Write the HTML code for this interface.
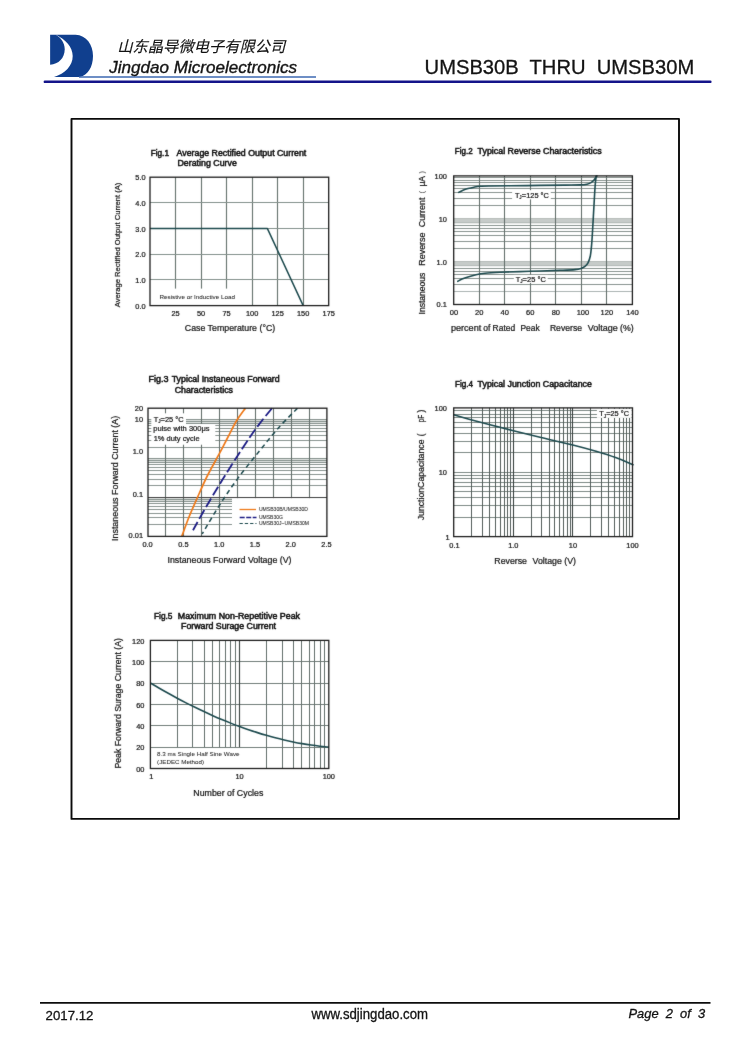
<!DOCTYPE html>
<html><head><meta charset="utf-8"><title>UMSB30B THRU UMSB30M</title>
<style>html,body{margin:0;padding:0;background:#fff}body{width:750px;height:1060px;overflow:hidden}svg{display:block}text{font-family:"Liberation Sans",sans-serif;fill:#141414}.fg text{stroke:#141414;stroke-width:0.22px}</style>
</head><body>
<svg width="750" height="1060" viewBox="0 0 750 1060" fill="none">
<rect width="750" height="1060" fill="#fff"/>
<defs><filter id="g0" x="-2%" y="-2%" width="104%" height="104%" color-interpolation-filters="sRGB"><feGaussianBlur stdDeviation="0.01"/></filter><filter id="b1" x="-5%" y="-5%" width="110%" height="110%" color-interpolation-filters="sRGB"><feConvolveMatrix order="3" kernelMatrix="1 4 1 4 52 4 1 4 1" divisor="72" edgeMode="duplicate" preserveAlpha="false"/></filter></defs>
<g id="hdr" filter="url(#g0)">
<g id="logo">
<path fill="#103f8e" d="M50.1 34.7H55.9C60.5 37.5 64.7 42.5 64.7 49.2C64.7 58 58.5 64.2 50.1 64.7Z"/>
<path fill="#103f8e" d="M55.9 34.7H75.5C86.5 35.2 93 44.5 93 56C93 67.5 87.5 75 80.1 77H54C65 73.5 72.7 66 72.7 56C72.7 47 65.5 39.5 55.9 34.7Z"/>
</g>
<path d="M79 76.9H316" stroke="#3d69b2" stroke-width="1.5"/>
<path d="M44.9 81.85H710.3" stroke="#14148a" stroke-width="2.6" stroke-linecap="round"/>
<text id="cn" transform="translate(117.3 52.4) skewX(-14)" x="0" y="0" font-size="15.3" textLength="168" lengthAdjust="spacingAndGlyphs" style="font-family:'Liberation Sans','Noto Sans CJK SC',sans-serif;fill:#111;stroke:#111;stroke-width:0.15px" xml:space="preserve">山东晶导微电子有限公司</text>
<text x="109.30" y="72.70" font-size="17" textLength="187.70" lengthAdjust="spacingAndGlyphs" font-style="italic" fill="#111" style="stroke:#111;stroke-width:0.35px" xml:space="preserve">Jingdao Microelectronics</text>
<text x="424.60" y="74.00" font-size="20" textLength="269.60" lengthAdjust="spacingAndGlyphs" fill="#111" style="stroke:#111;stroke-width:0.3px" xml:space="preserve">UMSB30B  THRU  UMSB30M</text>
</g>
<rect x="71.5" y="118.9" width="607.5" height="700" stroke="#0a0a0a" stroke-width="1.9" stroke-linejoin="round"/>
<g id="ftr" filter="url(#g0)">
<path d="M40 1002.5H710.5" stroke="#0c0c0c" stroke-width="2.7"/>
<text x="45.60" y="1019.90" font-size="13.2" textLength="47.80" lengthAdjust="spacingAndGlyphs" fill="#111" style="stroke:#111;stroke-width:0.3px" xml:space="preserve">2017.12</text>
<text x="311.40" y="1018.60" font-size="13.8" textLength="116.60" lengthAdjust="spacingAndGlyphs" fill="#111" style="stroke:#111;stroke-width:0.3px" xml:space="preserve">www.sdjingdao.com</text>
<text x="628.50" y="1018.40" font-size="13.5" textLength="76.70" lengthAdjust="spacingAndGlyphs" font-style="italic" fill="#111" style="stroke:#111;stroke-width:0.3px" xml:space="preserve">Page  2  of  3</text>
</g>
<g id="fig1" class="fg" filter="url(#b1)">
<path d="M175.50 177.20V305.60" stroke="#6a7773" stroke-width="1.15" />
<path d="M201.50 177.20V305.60" stroke="#6a7773" stroke-width="1.15" />
<path d="M226.50 177.20V305.60" stroke="#6a7773" stroke-width="1.15" />
<path d="M252.50 177.20V305.60" stroke="#6a7773" stroke-width="1.15" />
<path d="M277.50 177.20V305.60" stroke="#6a7773" stroke-width="1.15" />
<path d="M303.50 177.20V305.60" stroke="#6a7773" stroke-width="1.15" />
<path d="M150.00 202.50H328.70" stroke="#84918c" stroke-width="1.15" />
<path d="M150.00 228.50H328.70" stroke="#84918c" stroke-width="1.15" />
<path d="M150.00 254.50H328.70" stroke="#84918c" stroke-width="1.15" />
<path d="M150.00 279.50H328.70" stroke="#84918c" stroke-width="1.15" />
<rect x="151.00" y="288.60" width="88.00" height="17.00" fill="#fff"/>
<path d="M150.00 228.56H267.43L303.17 305.60" stroke="#1d4a4e" stroke-width="1.5" stroke-linejoin="round"/>
<rect x="150.0" y="177.2" width="178.70" height="128.40" stroke="#1e1e1e" stroke-width="1.3"/>
<text x="150.70" y="155.50" font-size="8.6" textLength="18.30" lengthAdjust="spacingAndGlyphs" style="stroke-width:0.52px" xml:space="preserve">Fig.1</text>
<text x="176.60" y="155.50" font-size="8.6" textLength="129.70" lengthAdjust="spacingAndGlyphs" style="stroke-width:0.52px" xml:space="preserve">Average Rectified Output Current</text>
<text x="177.50" y="165.60" font-size="8.6" textLength="59.30" lengthAdjust="spacingAndGlyphs" style="stroke-width:0.52px" xml:space="preserve">Derating Curve</text>
<text x="145.60" y="180.30" font-size="7.4" text-anchor="end" xml:space="preserve">5.0</text>
<text x="145.60" y="205.98" font-size="7.4" text-anchor="end" xml:space="preserve">4.0</text>
<text x="145.60" y="231.66" font-size="7.4" text-anchor="end" xml:space="preserve">3.0</text>
<text x="145.60" y="257.34" font-size="7.4" text-anchor="end" xml:space="preserve">2.0</text>
<text x="145.60" y="283.02" font-size="7.4" text-anchor="end" xml:space="preserve">1.0</text>
<text x="145.60" y="308.70" font-size="7.4" text-anchor="end" xml:space="preserve">0.0</text>
<text x="175.53" y="315.80" font-size="7.4" text-anchor="middle" xml:space="preserve">25</text>
<text x="201.06" y="315.80" font-size="7.4" text-anchor="middle" xml:space="preserve">50</text>
<text x="226.59" y="315.80" font-size="7.4" text-anchor="middle" xml:space="preserve">75</text>
<text x="252.11" y="315.80" font-size="7.4" text-anchor="middle" xml:space="preserve">100</text>
<text x="277.64" y="315.80" font-size="7.4" text-anchor="middle" xml:space="preserve">125</text>
<text x="303.17" y="315.80" font-size="7.4" text-anchor="middle" xml:space="preserve">150</text>
<text x="328.70" y="315.80" font-size="7.4" text-anchor="middle" xml:space="preserve">175</text>
<text x="184.80" y="331.00" font-size="8.6" textLength="90.40" lengthAdjust="spacingAndGlyphs" xml:space="preserve">Case Temperature (°C)</text>
<text transform="translate(119.80 307.30) rotate(-90)" font-size="7.6" textLength="124.60" lengthAdjust="spacingAndGlyphs" xml:space="preserve">Average Rectified Output Current (A)</text>
<text x="159.50" y="298.50" font-size="5.6" textLength="75.50" lengthAdjust="spacingAndGlyphs" style="stroke-width:0.05px;fill:#262626" xml:space="preserve">Resistive or Inductive Load</text>
</g>
<g id="fig2" class="fg" filter="url(#b1)">
<rect x="453.70" y="218.37" width="178.70" height="5.05" fill="#c6cbc9"/>
<rect x="453.70" y="261.23" width="178.70" height="5.05" fill="#c6cbc9"/>
<path d="M453.70 205.50H632.40" stroke="#7e8a86" stroke-width="0.9" />
<path d="M453.70 198.50H632.40" stroke="#7e8a86" stroke-width="0.9" />
<path d="M453.70 192.50H632.40" stroke="#7e8a86" stroke-width="0.9" />
<path d="M453.70 188.50H632.40" stroke="#7e8a86" stroke-width="0.9" />
<path d="M453.70 185.50H632.40" stroke="#7e8a86" stroke-width="0.9" />
<path d="M453.70 182.50H632.40" stroke="#7e8a86" stroke-width="0.9" />
<path d="M453.70 180.50H632.40" stroke="#7e8a86" stroke-width="0.9" />
<path d="M453.70 177.50H632.40" stroke="#7e8a86" stroke-width="0.9" />
<path d="M453.70 248.50H632.40" stroke="#7e8a86" stroke-width="0.9" />
<path d="M453.70 241.50H632.40" stroke="#7e8a86" stroke-width="0.9" />
<path d="M453.70 235.50H632.40" stroke="#7e8a86" stroke-width="0.9" />
<path d="M453.70 231.50H632.40" stroke="#7e8a86" stroke-width="0.9" />
<path d="M453.70 228.50H632.40" stroke="#7e8a86" stroke-width="0.9" />
<path d="M453.70 225.50H632.40" stroke="#7e8a86" stroke-width="0.9" />
<path d="M453.70 222.50H632.40" stroke="#b3bab7" stroke-width="0.9" />
<path d="M453.70 218.50H632.40" stroke="#b3bab7" stroke-width="0.9" />
<path d="M453.70 291.50H632.40" stroke="#a3adaa" stroke-width="0.9" />
<path d="M453.70 284.50H632.40" stroke="#7e8a86" stroke-width="0.9" />
<path d="M453.70 278.50H632.40" stroke="#7e8a86" stroke-width="0.9" />
<path d="M453.70 274.50H632.40" stroke="#7e8a86" stroke-width="0.9" />
<path d="M453.70 271.50H632.40" stroke="#7e8a86" stroke-width="0.9" />
<path d="M453.70 268.50H632.40" stroke="#7e8a86" stroke-width="0.9" />
<path d="M453.70 265.50H632.40" stroke="#b3bab7" stroke-width="0.9" />
<path d="M453.70 261.50H632.40" stroke="#b3bab7" stroke-width="0.9" />
<path d="M479.50 175.90V304.50" stroke="#65716d" stroke-width="1.1" />
<path d="M504.50 175.90V304.50" stroke="#65716d" stroke-width="1.1" />
<path d="M530.50 175.90V304.50" stroke="#65716d" stroke-width="1.1" />
<path d="M555.50 175.90V304.50" stroke="#65716d" stroke-width="1.1" />
<path d="M581.50 175.90V304.50" stroke="#65716d" stroke-width="1.1" />
<path d="M606.50 175.90V304.50" stroke="#65716d" stroke-width="1.1" />
<rect x="512.10" y="190.20" width="38.70" height="9.20" fill="#fff"/>
<rect x="513.80" y="274.90" width="33.90" height="8.00" fill="#fff"/>
<path d="M458.70 192.40C459.42 192.05 461.45 190.93 463.00 190.30C464.55 189.67 466.17 189.12 468.00 188.60C469.83 188.08 471.97 187.58 474.00 187.20C476.03 186.82 477.53 186.50 480.20 186.30C482.87 186.10 485.03 186.08 490.00 186.00C494.97 185.92 501.67 185.90 510.00 185.80C518.33 185.70 530.83 185.52 540.00 185.40C549.17 185.28 558.33 185.18 565.00 185.10C571.67 185.02 576.33 185.05 580.00 184.90C583.67 184.75 585.17 184.58 587.00 184.20C588.83 183.82 589.83 183.30 591.00 182.60C592.17 181.90 593.13 180.93 594.00 180.00C594.87 179.07 595.70 177.68 596.20 177.00C596.70 176.32 596.87 176.08 597.00 175.90" stroke="#1d4a4e" stroke-width="1.6" stroke-linecap="round"/>
<path d="M457.80 281.30C458.50 280.93 460.30 279.83 462.00 279.10C463.70 278.37 465.67 277.63 468.00 276.90C470.33 276.17 473.17 275.32 476.00 274.70C478.83 274.08 481.00 273.60 485.00 273.20C489.00 272.80 492.50 272.62 500.00 272.30C507.50 271.98 520.00 271.63 530.00 271.30C540.00 270.97 552.50 270.58 560.00 270.30C567.50 270.02 571.50 269.90 575.00 269.60C578.50 269.30 579.33 269.03 581.00 268.50C582.67 267.97 583.83 267.35 585.00 266.40C586.17 265.45 587.12 264.53 588.00 262.80C588.88 261.07 589.70 258.97 590.30 256.00C590.90 253.03 591.22 249.33 591.60 245.00C591.98 240.67 592.20 236.67 592.60 230.00C593.00 223.33 593.57 212.50 594.00 205.00C594.43 197.50 594.83 189.85 595.20 185.00C595.57 180.15 596.03 177.42 596.20 175.90" stroke="#1d4a4e" stroke-width="1.6" stroke-linecap="round"/>
<rect x="453.7" y="175.9" width="178.70" height="128.60" stroke="#1e1e1e" stroke-width="1.3"/>
<text x="454.80" y="154.20" font-size="8.6" textLength="17.80" lengthAdjust="spacingAndGlyphs" style="stroke-width:0.52px" xml:space="preserve">Fig.2</text>
<text x="477.60" y="154.20" font-size="8.6" textLength="124.00" lengthAdjust="spacingAndGlyphs" style="stroke-width:0.52px" xml:space="preserve">Typical Reverse Characteristics</text>
<text x="446.90" y="179.10" font-size="7.4" text-anchor="end" xml:space="preserve">100</text>
<text x="446.90" y="221.97" font-size="7.4" text-anchor="end" xml:space="preserve">10</text>
<text x="446.90" y="264.83" font-size="7.4" text-anchor="end" xml:space="preserve">1.0</text>
<text x="446.90" y="307.30" font-size="7.4" text-anchor="end" xml:space="preserve">0.1</text>
<text x="453.90" y="315.10" font-size="7.5" text-anchor="middle" xml:space="preserve">00</text>
<text x="479.23" y="315.10" font-size="7.5" text-anchor="middle" xml:space="preserve">20</text>
<text x="504.76" y="315.10" font-size="7.5" text-anchor="middle" xml:space="preserve">40</text>
<text x="530.29" y="315.10" font-size="7.5" text-anchor="middle" xml:space="preserve">60</text>
<text x="555.81" y="315.10" font-size="7.5" text-anchor="middle" xml:space="preserve">80</text>
<text x="582.94" y="315.10" font-size="7.5" text-anchor="middle" xml:space="preserve">100</text>
<text x="606.87" y="315.10" font-size="7.5" text-anchor="middle" xml:space="preserve">120</text>
<text x="632.40" y="315.10" font-size="7.5" text-anchor="middle" xml:space="preserve">140</text>
<text x="450.90" y="331.10" font-size="8.4" textLength="30.40" lengthAdjust="spacingAndGlyphs" xml:space="preserve">percent</text>
<text x="483.30" y="331.10" font-size="8.4" textLength="7.10" lengthAdjust="spacingAndGlyphs" xml:space="preserve">of</text>
<text x="492.60" y="331.10" font-size="8.4" textLength="22.60" lengthAdjust="spacingAndGlyphs" xml:space="preserve">Rated</text>
<text x="520.50" y="331.10" font-size="8.4" textLength="19.20" lengthAdjust="spacingAndGlyphs" xml:space="preserve">Peak</text>
<text x="549.90" y="331.10" font-size="8.4" textLength="32.10" lengthAdjust="spacingAndGlyphs" xml:space="preserve">Reverse</text>
<text x="587.80" y="331.10" font-size="8.4" textLength="30.00" lengthAdjust="spacingAndGlyphs" xml:space="preserve">Voltage</text>
<text x="620.00" y="331.10" font-size="8.4" textLength="13.70" lengthAdjust="spacingAndGlyphs" xml:space="preserve">(%)</text>
<text transform="translate(424.70 314.50) rotate(-90)" font-size="8.4" textLength="41.90" lengthAdjust="spacingAndGlyphs" xml:space="preserve">Instaneous</text>
<text transform="translate(424.70 265.70) rotate(-90)" font-size="8.4" textLength="33.20" lengthAdjust="spacingAndGlyphs" xml:space="preserve">Reverse</text>
<text transform="translate(424.70 227.30) rotate(-90)" font-size="8.4" textLength="29.70" lengthAdjust="spacingAndGlyphs" xml:space="preserve">Current</text>
<text transform="translate(424.70 186.60) rotate(-90)" font-size="8.4" textLength="10.70" lengthAdjust="spacingAndGlyphs" xml:space="preserve">μA</text>
<text transform="translate(423.60 193.60) rotate(-90)" font-size="7.4" style="stroke-width:0;fill:#4a4a4a" xml:space="preserve">(</text>
<text transform="translate(423.60 173.40) rotate(-90)" font-size="7.4" style="stroke-width:0;fill:#4a4a4a" xml:space="preserve">)</text>
<text x="514.90" y="197.60" font-size="7.4" xml:space="preserve">T</text>
<text x="519.34" y="199.00" font-size="4.588" xml:space="preserve">J</text>
<text x="521.83" y="197.60" font-size="7.4" textLength="27.07" lengthAdjust="spacingAndGlyphs" xml:space="preserve">=125 °C</text>
<text x="515.70" y="281.60" font-size="7.4" xml:space="preserve">T</text>
<text x="520.14" y="283.00" font-size="4.588" xml:space="preserve">J</text>
<text x="522.63" y="281.60" font-size="7.4" textLength="23.17" lengthAdjust="spacingAndGlyphs" xml:space="preserve">=25 °C</text>
</g>
<g id="fig3" class="fg" filter="url(#b1)">
<rect x="148.00" y="419.50" width="178.90" height="4.66" fill="#dde1df"/>
<rect x="148.00" y="458.33" width="178.90" height="4.66" fill="#dde1df"/>
<rect x="148.00" y="497.17" width="178.90" height="4.66" fill="#dde1df"/>
<path d="M148.00 447.50H326.90" stroke="#7e8a86" stroke-width="0.9" />
<path d="M148.00 440.50H326.90" stroke="#7e8a86" stroke-width="0.9" />
<path d="M148.00 435.50H326.90" stroke="#7e8a86" stroke-width="0.9" />
<path d="M148.00 431.50H326.90" stroke="#7e8a86" stroke-width="0.9" />
<path d="M148.00 428.50H326.90" stroke="#7e8a86" stroke-width="0.9" />
<path d="M148.00 425.50H326.90" stroke="#7e8a86" stroke-width="0.9" />
<path d="M148.00 423.50H326.90" stroke="#7e8a86" stroke-width="0.9" />
<path d="M148.00 421.50H326.90" stroke="#7e8a86" stroke-width="0.9" />
<path d="M148.00 419.50H326.90" stroke="#7e8a86" stroke-width="0.9" />
<path d="M148.00 485.50H326.90" stroke="#7e8a86" stroke-width="0.9" />
<path d="M148.00 479.50H326.90" stroke="#7e8a86" stroke-width="0.9" />
<path d="M148.00 474.50H326.90" stroke="#7e8a86" stroke-width="0.9" />
<path d="M148.00 470.50H326.90" stroke="#7e8a86" stroke-width="0.9" />
<path d="M148.00 467.50H326.90" stroke="#7e8a86" stroke-width="0.9" />
<path d="M148.00 464.50H326.90" stroke="#7e8a86" stroke-width="0.9" />
<path d="M148.00 462.50H326.90" stroke="#7e8a86" stroke-width="0.9" />
<path d="M148.00 460.50H326.90" stroke="#7e8a86" stroke-width="0.9" />
<path d="M148.00 458.50H326.90" stroke="#7e8a86" stroke-width="0.9" />
<path d="M148.00 524.50H326.90" stroke="#7e8a86" stroke-width="0.9" />
<path d="M148.00 517.50H326.90" stroke="#7e8a86" stroke-width="0.9" />
<path d="M148.00 513.50H326.90" stroke="#7e8a86" stroke-width="0.9" />
<path d="M148.00 509.50H326.90" stroke="#7e8a86" stroke-width="0.9" />
<path d="M148.00 506.50H326.90" stroke="#7e8a86" stroke-width="0.9" />
<path d="M148.00 503.50H326.90" stroke="#7e8a86" stroke-width="0.9" />
<path d="M148.00 501.50H326.90" stroke="#7e8a86" stroke-width="0.9" />
<path d="M148.00 499.50H326.90" stroke="#7e8a86" stroke-width="0.9" />
<path d="M148.00 497.50H326.90" stroke="#7e8a86" stroke-width="0.9" />
<path d="M165.50 408.20V536.40" stroke="#65716d" stroke-width="1.1" />
<path d="M183.50 408.20V536.40" stroke="#65716d" stroke-width="1.1" />
<path d="M201.50 408.20V536.40" stroke="#65716d" stroke-width="1.1" />
<path d="M219.50 408.20V536.40" stroke="#65716d" stroke-width="1.1" />
<path d="M237.50 408.20V536.40" stroke="#65716d" stroke-width="1.1" />
<path d="M255.50 408.20V536.40" stroke="#65716d" stroke-width="1.1" />
<path d="M273.50 408.20V536.40" stroke="#65716d" stroke-width="1.1" />
<path d="M291.50 408.20V536.40" stroke="#65716d" stroke-width="1.1" />
<path d="M309.50 408.20V536.40" stroke="#65716d" stroke-width="1.1" />
<path d="M148.00 497.50H326.90" stroke="#444" stroke-width="1.1" />
<rect x="151.30" y="413.30" width="34.70" height="11.70" fill="#fff"/>
<rect x="151.30" y="424.00" width="64.00" height="20.70" fill="#fff"/>
<rect x="232.00" y="498.17" width="94.90" height="38.23" fill="#fff"/>
<path d="M181.80 536.40C183.00 533.17 186.43 523.40 189.00 517.00C191.57 510.60 194.20 504.75 197.20 498.00C200.20 491.25 203.27 483.97 207.00 476.50C210.73 469.03 216.10 459.78 219.60 453.20C223.10 446.62 225.20 442.37 228.00 437.00C230.80 431.63 233.50 425.80 236.40 421.00C239.30 416.20 243.90 410.33 245.40 408.20" stroke="#ef7a1a" stroke-width="1.7"/>
<path d="M272.00 408.20C269.57 411.27 262.40 419.80 257.40 426.60C252.40 433.40 247.83 440.13 242.00 449.00C236.17 457.87 228.47 470.00 222.40 479.80C216.33 489.60 210.50 499.40 205.60 507.80C200.70 516.20 195.10 526.47 193.00 530.20" stroke="#1c1c84" stroke-width="1.8" stroke-dasharray="10.1 3.5"/>
<path d="M297.50 408.20C294.32 411.50 284.85 420.73 278.40 428.00C271.95 435.27 265.57 443.40 258.80 451.80C252.03 460.20 244.33 469.53 237.80 478.40C231.27 487.27 225.53 495.75 219.60 505.00C213.67 514.25 205.10 529.08 202.20 533.90" stroke="#1d4a4e" stroke-width="1.5" stroke-dasharray="4.7 3.5"/>
<rect x="148.0" y="408.2" width="178.90" height="128.20" stroke="#1e1e1e" stroke-width="1.3"/>
<text x="148.50" y="381.50" font-size="8.6" textLength="20.00" lengthAdjust="spacingAndGlyphs" style="stroke-width:0.52px" xml:space="preserve">Fig.3</text>
<text x="171.70" y="381.50" font-size="8.6" textLength="108.00" lengthAdjust="spacingAndGlyphs" style="stroke-width:0.52px" xml:space="preserve">Typical Instaneous Forward</text>
<text x="174.70" y="392.50" font-size="8.6" textLength="58.30" lengthAdjust="spacingAndGlyphs" style="stroke-width:0.52px" xml:space="preserve">Characteristics</text>
<text x="143.00" y="410.60" font-size="7.4" text-anchor="end" xml:space="preserve">20</text>
<text x="143.00" y="422.40" font-size="7.4" text-anchor="end" xml:space="preserve">10</text>
<text x="143.00" y="454.00" font-size="7.4" text-anchor="end" xml:space="preserve">1.0</text>
<text x="143.00" y="497.40" font-size="7.4" text-anchor="end" xml:space="preserve">0.1</text>
<text x="143.00" y="538.40" font-size="7.4" text-anchor="end" xml:space="preserve">0.01</text>
<text x="147.60" y="547.10" font-size="7.4" text-anchor="middle" xml:space="preserve">0.0</text>
<text x="183.38" y="547.10" font-size="7.4" text-anchor="middle" xml:space="preserve">0.5</text>
<text x="219.16" y="547.10" font-size="7.4" text-anchor="middle" xml:space="preserve">1.0</text>
<text x="254.94" y="547.10" font-size="7.4" text-anchor="middle" xml:space="preserve">1.5</text>
<text x="290.72" y="547.10" font-size="7.4" text-anchor="middle" xml:space="preserve">2.0</text>
<text x="326.50" y="547.10" font-size="7.4" text-anchor="middle" xml:space="preserve">2.5</text>
<text x="167.50" y="562.90" font-size="8.4" textLength="124.00" lengthAdjust="spacingAndGlyphs" xml:space="preserve">Instaneous Forward Voltage (V)</text>
<text transform="translate(118.20 541.00) rotate(-90)" font-size="8.4" textLength="125.20" lengthAdjust="spacingAndGlyphs" xml:space="preserve">Instaneous Forward Current (A)</text>
<text x="153.70" y="421.70" font-size="7.4" xml:space="preserve">T</text>
<text x="158.14" y="423.10" font-size="4.588" xml:space="preserve">J</text>
<text x="160.63" y="421.70" font-size="7.4" textLength="23.07" lengthAdjust="spacingAndGlyphs" xml:space="preserve">=25 °C</text>
<text x="153.30" y="431.40" font-size="7.4" textLength="56.30" lengthAdjust="spacingAndGlyphs" xml:space="preserve">pulse with 300μs</text>
<text x="153.70" y="440.50" font-size="7.4" textLength="45.90" lengthAdjust="spacingAndGlyphs" xml:space="preserve">1% duty cycle</text>
<path d="M239.50 509.50H256.00" stroke="#ef7a1a" stroke-width="1.3" />
<path d="M239.70 517.50H256.50" stroke="#1c1c84" stroke-width="1.4" stroke-dasharray="5 1.5"/>
<path d="M239.50 523.50H256.50" stroke="#1d4a4e" stroke-width="1.1" stroke-dasharray="3.3 2"/>
<text x="258.90" y="511.40" font-size="4.6" textLength="49.10" lengthAdjust="spacingAndGlyphs" style="stroke-width:0.05px;fill:#262626" xml:space="preserve">UMSB30B/UMSB30D</text>
<text x="258.90" y="518.60" font-size="4.6" textLength="24.00" lengthAdjust="spacingAndGlyphs" style="stroke-width:0.05px;fill:#262626" xml:space="preserve">UMSB30G</text>
<text x="258.90" y="525.00" font-size="4.6" textLength="50.10" lengthAdjust="spacingAndGlyphs" style="stroke-width:0.05px;fill:#262626" xml:space="preserve">UMSB30J~UMSB30M</text>
</g>
<g id="fig4" class="fg" filter="url(#b1)">
<path d="M453.70 452.50H632.50" stroke="#7e8a86" stroke-width="1.0" />
<path d="M453.70 441.50H632.50" stroke="#7e8a86" stroke-width="1.0" />
<path d="M453.70 433.50H632.50" stroke="#7e8a86" stroke-width="1.0" />
<path d="M453.70 427.50H632.50" stroke="#7e8a86" stroke-width="1.0" />
<path d="M453.70 422.50H632.50" stroke="#7e8a86" stroke-width="1.0" />
<path d="M453.70 417.50H632.50" stroke="#7e8a86" stroke-width="1.0" />
<path d="M453.70 414.50H632.50" stroke="#7e8a86" stroke-width="1.0" />
<path d="M453.70 410.50H632.50" stroke="#7e8a86" stroke-width="1.0" />
<path d="M453.70 472.50H632.50" stroke="#7e8a86" stroke-width="1.0" />
<path d="M453.70 517.50H632.50" stroke="#7e8a86" stroke-width="1.0" />
<path d="M453.70 505.50H632.50" stroke="#7e8a86" stroke-width="1.0" />
<path d="M453.70 497.50H632.50" stroke="#7e8a86" stroke-width="1.0" />
<path d="M453.70 491.50H632.50" stroke="#7e8a86" stroke-width="1.0" />
<path d="M453.70 486.50H632.50" stroke="#7e8a86" stroke-width="1.0" />
<path d="M453.70 482.50H632.50" stroke="#7e8a86" stroke-width="1.0" />
<path d="M453.70 478.50H632.50" stroke="#7e8a86" stroke-width="1.0" />
<path d="M453.70 475.50H632.50" stroke="#7e8a86" stroke-width="1.0" />
<path d="M471.50 407.90V536.60" stroke="#4d5754" stroke-width="0.95" />
<path d="M482.50 407.90V536.60" stroke="#4d5754" stroke-width="0.95" />
<path d="M489.50 407.90V536.60" stroke="#4d5754" stroke-width="0.95" />
<path d="M495.50 407.90V536.60" stroke="#4d5754" stroke-width="0.95" />
<path d="M500.50 407.90V536.60" stroke="#4d5754" stroke-width="0.95" />
<path d="M504.50 407.90V536.60" stroke="#4d5754" stroke-width="0.95" />
<path d="M507.50 407.90V536.60" stroke="#4d5754" stroke-width="0.95" />
<path d="M510.50 407.90V536.60" stroke="#4d5754" stroke-width="0.95" />
<path d="M513.50 407.90V536.60" stroke="#3a4240" stroke-width="1.1" />
<path d="M531.50 407.90V536.60" stroke="#4d5754" stroke-width="0.95" />
<path d="M541.50 407.90V536.60" stroke="#4d5754" stroke-width="0.95" />
<path d="M549.50 407.90V536.60" stroke="#4d5754" stroke-width="0.95" />
<path d="M554.50 407.90V536.60" stroke="#4d5754" stroke-width="0.95" />
<path d="M559.50 407.90V536.60" stroke="#4d5754" stroke-width="0.95" />
<path d="M563.50 407.90V536.60" stroke="#4d5754" stroke-width="0.95" />
<path d="M567.50 407.90V536.60" stroke="#4d5754" stroke-width="0.95" />
<path d="M570.50 407.90V536.60" stroke="#4d5754" stroke-width="0.95" />
<path d="M572.50 407.90V536.60" stroke="#3a4240" stroke-width="1.1" />
<path d="M590.50 407.90V536.60" stroke="#4d5754" stroke-width="0.95" />
<path d="M601.50 407.90V536.60" stroke="#4d5754" stroke-width="0.95" />
<path d="M608.50 407.90V536.60" stroke="#4d5754" stroke-width="0.95" />
<path d="M614.50 407.90V536.60" stroke="#4d5754" stroke-width="0.95" />
<path d="M619.50 407.90V536.60" stroke="#4d5754" stroke-width="0.95" />
<path d="M623.50 407.90V536.60" stroke="#4d5754" stroke-width="0.95" />
<path d="M626.50 407.90V536.60" stroke="#4d5754" stroke-width="0.95" />
<path d="M629.50 407.90V536.60" stroke="#4d5754" stroke-width="0.95" />
<rect x="596.90" y="408.80" width="34.70" height="9.10" fill="#fff"/>
<path d="M453.70 414.80C456.42 415.57 463.95 417.73 470.00 419.40C476.05 421.07 482.77 422.90 490.00 424.80C497.23 426.70 505.07 428.72 513.40 430.80C521.73 432.88 530.10 434.93 540.00 437.30C549.90 439.67 563.47 442.67 572.80 445.00C582.13 447.33 588.87 449.20 596.00 451.30C603.13 453.40 609.33 455.32 615.60 457.60C621.87 459.88 630.60 463.77 633.60 465.00" stroke="#1d4a4e" stroke-width="1.6"/>
<rect x="453.7" y="407.9" width="178.80" height="128.70" stroke="#1e1e1e" stroke-width="1.3"/>
<text x="455.00" y="386.50" font-size="8.6" textLength="18.00" lengthAdjust="spacingAndGlyphs" style="stroke-width:0.52px" xml:space="preserve">Fig.4</text>
<text x="477.60" y="386.50" font-size="8.6" textLength="114.30" lengthAdjust="spacingAndGlyphs" style="stroke-width:0.52px" xml:space="preserve">Typical Junction Capacitance</text>
<text x="446.90" y="410.80" font-size="7.4" text-anchor="end" xml:space="preserve">100</text>
<text x="446.90" y="475.15" font-size="7.4" text-anchor="end" xml:space="preserve">10</text>
<text x="449.60" y="539.50" font-size="7.4" text-anchor="end" xml:space="preserve">1</text>
<text x="454.50" y="548.00" font-size="7.4" text-anchor="middle" xml:space="preserve">0.1</text>
<text x="513.30" y="548.00" font-size="7.4" text-anchor="middle" xml:space="preserve">1.0</text>
<text x="572.90" y="548.00" font-size="7.4" text-anchor="middle" xml:space="preserve">10</text>
<text x="632.50" y="548.00" font-size="7.4" text-anchor="middle" xml:space="preserve">100</text>
<text x="494.30" y="564.30" font-size="8.4" textLength="32.70" lengthAdjust="spacingAndGlyphs" xml:space="preserve">Reverse</text>
<text x="532.50" y="564.30" font-size="8.4" textLength="43.50" lengthAdjust="spacingAndGlyphs" xml:space="preserve">Voltage (V)</text>
<text transform="translate(424.30 520.30) rotate(-90)" font-size="8.4" textLength="80.80" lengthAdjust="spacingAndGlyphs" xml:space="preserve">JunctionCapacitance</text>
<text transform="translate(424.30 436.20) rotate(-90)" font-size="8.4" xml:space="preserve">(</text>
<text transform="translate(424.30 422.30) rotate(-90)" font-size="8.4" textLength="7.60" lengthAdjust="spacingAndGlyphs" xml:space="preserve">pF</text>
<text transform="translate(424.30 412.60) rotate(-90)" font-size="8.4" xml:space="preserve">)</text>
<text x="599.30" y="416.40" font-size="7.4" xml:space="preserve">T</text>
<text x="603.74" y="417.80" font-size="4.588" xml:space="preserve">J</text>
<text x="606.23" y="416.40" font-size="7.4" textLength="22.77" lengthAdjust="spacingAndGlyphs" xml:space="preserve">=25 °C</text>
</g>
<g id="fig5" class="fg" filter="url(#b1)">
<path d="M150.40 661.50H328.80" stroke="#727e7a" stroke-width="1.05" />
<path d="M150.40 683.50H328.80" stroke="#727e7a" stroke-width="1.05" />
<path d="M150.40 704.50H328.80" stroke="#727e7a" stroke-width="1.05" />
<path d="M150.40 725.50H328.80" stroke="#727e7a" stroke-width="1.05" />
<path d="M150.40 747.50H328.80" stroke="#727e7a" stroke-width="1.05" />
<path d="M177.50 640.40V747.15" stroke="#65716d" stroke-width="1.05" />
<path d="M192.50 640.40V747.15" stroke="#65716d" stroke-width="1.05" />
<path d="M204.50 640.40V747.15" stroke="#65716d" stroke-width="1.05" />
<path d="M212.50 640.40V747.15" stroke="#65716d" stroke-width="1.05" />
<path d="M219.50 640.40V747.15" stroke="#65716d" stroke-width="1.05" />
<path d="M225.50 640.40V747.15" stroke="#65716d" stroke-width="1.05" />
<path d="M230.50 640.40V747.15" stroke="#65716d" stroke-width="1.05" />
<path d="M235.50 640.40V747.15" stroke="#65716d" stroke-width="1.05" />
<path d="M239.50 640.40V747.15" stroke="#3f4845" stroke-width="1.15" />
<path d="M266.50 640.40V768.50" stroke="#65716d" stroke-width="1.05" />
<path d="M282.50 640.40V768.50" stroke="#65716d" stroke-width="1.05" />
<path d="M293.50 640.40V768.50" stroke="#65716d" stroke-width="1.05" />
<path d="M301.50 640.40V768.50" stroke="#65716d" stroke-width="1.05" />
<path d="M309.50 640.40V768.50" stroke="#65716d" stroke-width="1.05" />
<path d="M314.50 640.40V768.50" stroke="#65716d" stroke-width="1.05" />
<path d="M320.50 640.40V768.50" stroke="#65716d" stroke-width="1.05" />
<path d="M324.50 640.40V768.50" stroke="#65716d" stroke-width="1.05" />
<path d="M150.40 682.99C151.89 683.87 156.35 686.53 159.32 688.25C162.29 689.97 165.27 691.66 168.24 693.31C171.21 694.97 174.19 696.59 177.16 698.19C180.13 699.78 183.11 701.34 186.08 702.86C189.05 704.39 192.03 705.88 195.00 707.33C197.97 708.79 200.95 710.22 203.92 711.60C206.89 712.99 209.87 714.34 212.84 715.66C215.81 716.98 218.79 718.26 221.76 719.50C224.73 720.74 227.71 721.95 230.68 723.12C233.65 724.29 236.63 725.42 239.60 726.52C242.57 727.61 245.55 728.67 248.52 729.68C251.49 730.70 254.47 731.68 257.44 732.62C260.41 733.55 263.39 734.45 266.36 735.31C269.33 736.17 272.31 736.98 275.28 737.76C278.25 738.54 281.23 739.27 284.20 739.96C287.17 740.66 290.15 741.31 293.12 741.91C296.09 742.52 299.07 743.09 302.04 743.61C305.01 744.13 307.99 744.61 310.96 745.04C313.93 745.47 316.91 745.86 319.88 746.21C322.85 746.55 327.31 746.95 328.80 747.10" stroke="#1d4a4e" stroke-width="1.6"/>
<rect x="150.4" y="640.4" width="178.40" height="128.10" stroke="#1e1e1e" stroke-width="1.3"/>
<text x="154.00" y="618.70" font-size="8.6" textLength="18.50" lengthAdjust="spacingAndGlyphs" style="stroke-width:0.52px" xml:space="preserve">Fig.5</text>
<text x="177.80" y="618.70" font-size="8.6" textLength="122.20" lengthAdjust="spacingAndGlyphs" style="stroke-width:0.52px" xml:space="preserve">Maximum Non-Repetitive Peak</text>
<text x="181.00" y="629.40" font-size="8.6" textLength="95.00" lengthAdjust="spacingAndGlyphs" style="stroke-width:0.52px" xml:space="preserve">Forward Surage Current</text>
<text x="144.40" y="643.50" font-size="7.4" text-anchor="end" xml:space="preserve">120</text>
<text x="144.40" y="664.85" font-size="7.4" text-anchor="end" xml:space="preserve">100</text>
<text x="144.40" y="686.20" font-size="7.4" text-anchor="end" xml:space="preserve">80</text>
<text x="144.40" y="707.55" font-size="7.4" text-anchor="end" xml:space="preserve">60</text>
<text x="144.40" y="728.90" font-size="7.4" text-anchor="end" xml:space="preserve">40</text>
<text x="144.40" y="750.25" font-size="7.4" text-anchor="end" xml:space="preserve">20</text>
<text x="144.40" y="771.60" font-size="7.4" text-anchor="end" xml:space="preserve">00</text>
<text x="151.20" y="779.00" font-size="7.4" text-anchor="middle" xml:space="preserve">1</text>
<text x="239.60" y="779.00" font-size="7.4" text-anchor="middle" xml:space="preserve">10</text>
<text x="328.80" y="779.00" font-size="7.4" text-anchor="middle" xml:space="preserve">100</text>
<text x="193.30" y="795.80" font-size="8.4" textLength="70.00" lengthAdjust="spacingAndGlyphs" xml:space="preserve">Number of Cycles</text>
<text transform="translate(121.00 768.60) rotate(-90)" font-size="8.4" textLength="130.50" lengthAdjust="spacingAndGlyphs" xml:space="preserve">Peak Forward Surage Current (A)</text>
<text x="157.10" y="756.00" font-size="5.8" textLength="82.40" lengthAdjust="spacingAndGlyphs" style="stroke-width:0.05px;fill:#262626" xml:space="preserve">8.3 ms Single Half Sine Wave</text>
<text x="157.10" y="763.60" font-size="5.8" textLength="46.90" lengthAdjust="spacingAndGlyphs" style="stroke-width:0.05px;fill:#262626" xml:space="preserve">(JEDEC Method)</text>
</g>
</svg></body></html>
